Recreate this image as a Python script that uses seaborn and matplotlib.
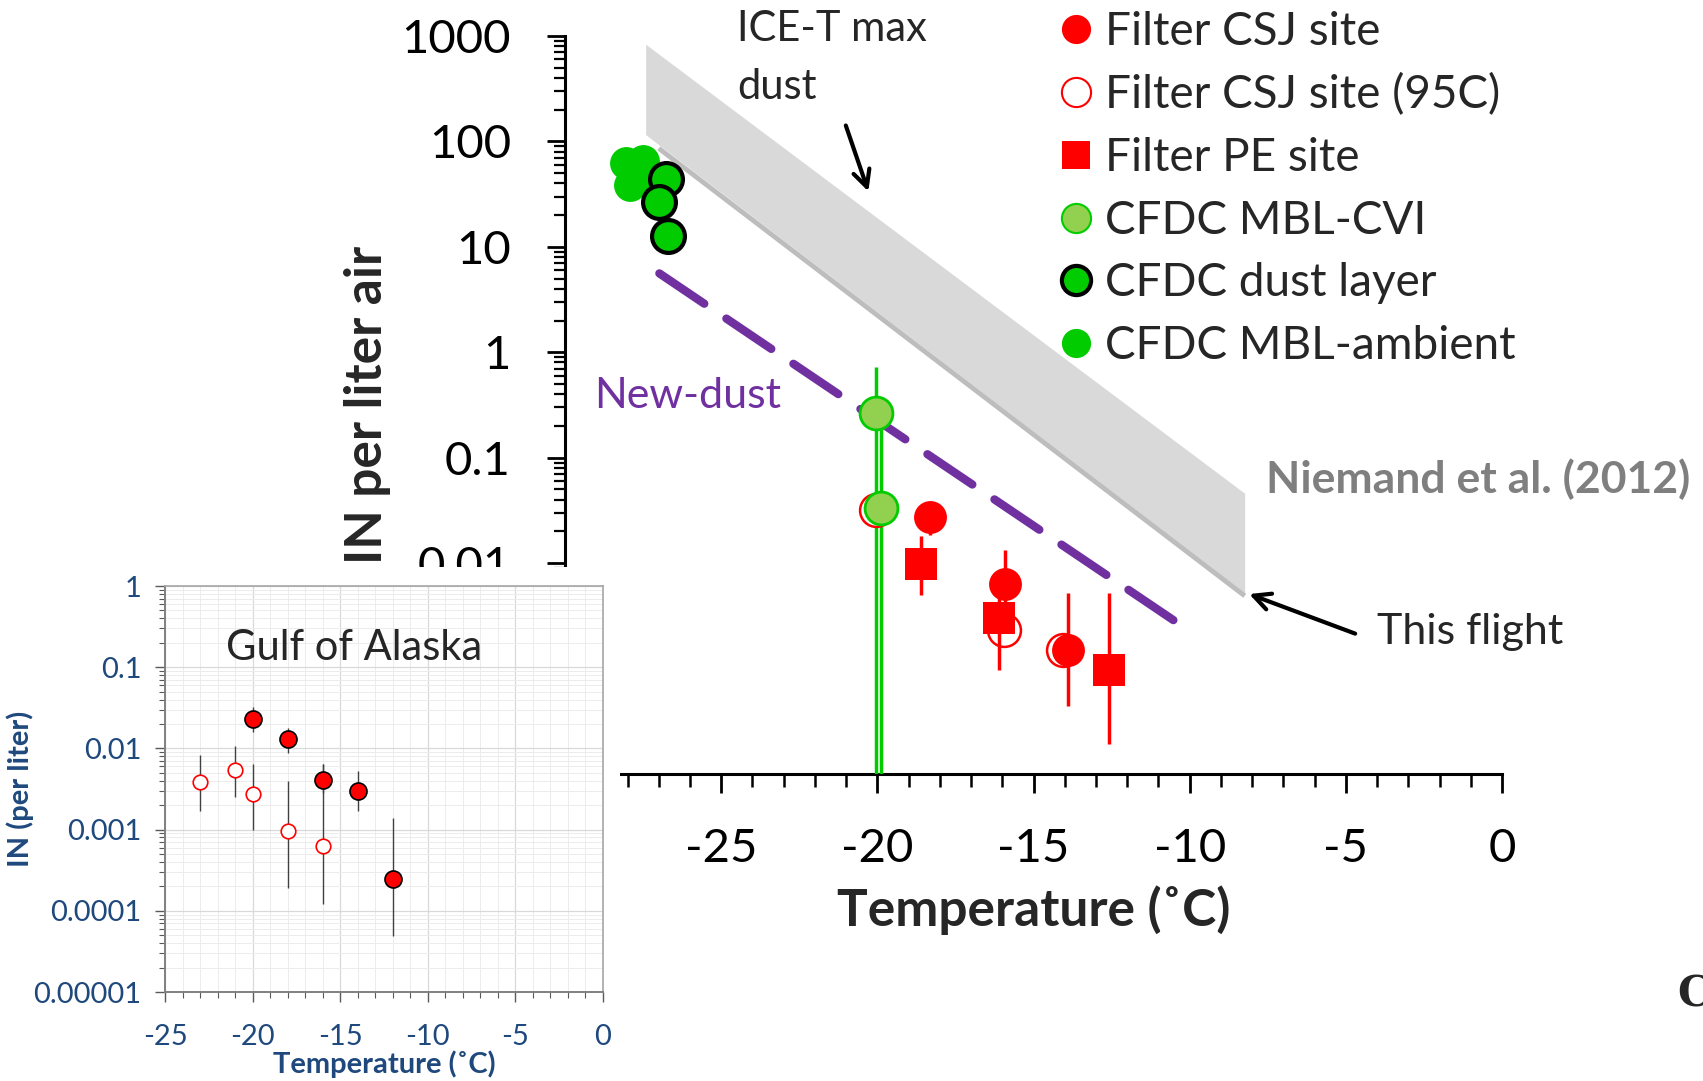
import numpy as np
import matplotlib
matplotlib.use('Agg')
import matplotlib.pyplot as plt
import seaborn as sns
from matplotlib.lines import Line2D
from matplotlib.patches import Rectangle
from matplotlib.ticker import MultipleLocator, LogLocator, FuncFormatter, NullFormatter

sns.set_style('white')
plt.rcParams['font.family'] = ['Lato', 'DejaVu Sans']
plt.rcParams['axes.unicode_minus'] = False

# ---- main panel data ----
csj_t = [-18.3, -15.9, -13.9]
csj_in = [0.0275, 0.0063, 0.00149]
csj_lo = [0.0186, 0.003, 0.000446]
csj_hi = [0.030, 0.0133, 0.0052]

csj95_t = [-20.05, -15.95, -14.05]
csj95_in = [0.032, 0.0023, 0.0015]

pe_t = [-18.6, -16.1, -12.6]
pe_in = [0.0098, 0.0030, 0.00097]
pe_lo = [0.00495, 0.00096, 0.000192]
pe_hi = [0.0182, 0.0055, 0.0052]

cvi_t = [-20.05, -19.87]
cvi_in = [0.265, 0.033]
cvi_lo = [1e-5, 1e-5]
cvi_hi = [0.73, 0.265]

dust_t = [-26.77, -26.98, -26.7]
dust_in = [44, 26.8, 12.6]

amb_t = [-28.05, -27.49, -27.92, -27.06]
amb_in = [62, 64.6, 39, 44]

# Niemand et al. (2012) band and this-flight edge
band_t = [-27.42, -8.24]
band_lo = [116, 0.0052]
band_hi = [835, 0.046]
flight_t = [-27.0, -8.24]
flight_in = [86, 0.0049]

# New-dust parameterisation
newdust_t = [-26.98, -10.3]
newdust_in = [5.6, 0.0026]

# ---- inset (Gulf of Alaska) data ----
goa_t = [-20, -18, -16, -14, -12]
goa_in = [0.0232, 0.0129, 0.00411, 0.0030, 0.000248]
goa_lo = [0.0159, 0.0089, 0.0028, 0.0017, 0.000049]
goa_hi = [0.0325, 0.018, 0.0065, 0.0053, 0.00139]

goa95_t = [-23, -21, -20, -18, -16]
goa95_in = [0.00387, 0.0054, 0.00275, 0.00096, 0.00063]
goa95_lo = [0.0017, 0.0025, 0.001, 0.00019, 0.00012]
goa95_hi = [0.0084, 0.0106, 0.0065, 0.004, 0.0065]

RED = '#ff0000'
GREEN = '#00cc00'
LIGHTGREEN = '#92d050'
PURPLE = '#7030a0'
NAVY = '#1f497d'


def dec_fmt(v, pos):
    if v >= 1:
        return f'{v:.0f}'
    n = int(round(-np.log10(v)))
    return f'{v:.{n}f}'


def yerr(val, lo, hi):
    val = np.asarray(val)
    return [val - np.asarray(lo), np.asarray(hi) - val]


fig = plt.figure(figsize=(17.03, 10.81), dpi=100)
ax = fig.add_axes([0.3318, 0.284, 0.5502, 0.6827])

# band
ax.fill_between(band_t, band_lo, band_hi, color='#d9d9d9', lw=0, zorder=1)
ax.plot(flight_t, flight_in, color='#bdbdbd', lw=3.5, zorder=1.5, solid_capstyle='butt')
ax.plot(newdust_t, newdust_in, color=PURPLE, lw=6, ls=(0, (6.5, 3.2)),
        dash_capstyle='round', zorder=2)

# error bars
ax.errorbar(cvi_t, cvi_in, yerr=yerr(cvi_in, cvi_lo, cvi_hi), fmt='none',
            ecolor=GREEN, elinewidth=2.5, capsize=0, zorder=3)
ax.errorbar(csj_t, csj_in, yerr=yerr(csj_in, csj_lo, csj_hi), fmt='none',
            ecolor=RED, elinewidth=2.5, capsize=0, zorder=5)
ax.errorbar(pe_t, pe_in, yerr=yerr(pe_in, pe_lo, pe_hi), fmt='none',
            ecolor=RED, elinewidth=2.5, capsize=0, zorder=5)

# points
sns.scatterplot(x=csj95_t, y=csj95_in, ax=ax, marker='o', s=560, color='white',
                edgecolor=RED, linewidth=1.8, zorder=4)
sns.scatterplot(x=csj_t, y=csj_in, ax=ax, marker='o', s=560, color=RED,
                linewidth=0, zorder=6)
sns.scatterplot(x=pe_t, y=pe_in, ax=ax, marker='s', s=560, color=RED,
                linewidth=0, zorder=6)
sns.scatterplot(x=cvi_t, y=cvi_in, ax=ax, marker='o', s=560, color=LIGHTGREEN,
                edgecolor=GREEN, linewidth=2, zorder=6)
sns.scatterplot(x=amb_t, y=amb_in, ax=ax, marker='o', s=560, color=GREEN,
                linewidth=0, zorder=6)
sns.scatterplot(x=dust_t, y=dust_in, ax=ax, marker='o', s=560, color=GREEN,
                edgecolor='black', linewidth=3, zorder=7)

ax.set_yscale('log')
ax.set_xlim(-30, 0)
ax.set_ylim(1e-4, 1000)
ax.yaxis.set_major_locator(LogLocator(base=10, numticks=20))
ax.yaxis.set_minor_locator(LogLocator(base=10, subs=np.arange(2, 10), numticks=20))
ax.yaxis.set_major_formatter(FuncFormatter(dec_fmt))
ax.yaxis.set_minor_formatter(NullFormatter())
ax.xaxis.set_major_locator(MultipleLocator(5))
ax.xaxis.set_minor_locator(MultipleLocator(1))
for s in ['top', 'right']:
    ax.spines[s].set_visible(False)
for s in ['left', 'bottom']:
    ax.spines[s].set_linewidth(2.2)
    ax.spines[s].set_color('black')
ax.tick_params(axis='both', which='both', bottom=True, left=True, top=False, right=False)
ax.tick_params(axis='x', which='major', direction='out', length=14, width=2,
               labelsize=34, colors='black', pad=25)
ax.tick_params(axis='x', which='minor', direction='out', length=9, width=1.8,
               colors='black')
ax.tick_params(axis='y', which='major', direction='out', length=13, width=2,
               labelsize=34, colors='black', pad=26)
ax.tick_params(axis='y', which='minor', direction='out', length=8, width=1.6,
               colors='black')
ax.grid(False)

ax.set_xlabel('Temperature (˚C)', fontsize=37, fontweight='bold')
ax.xaxis.set_label_coords(0.5, -0.184)
ax.xaxis.label.set_va('center')
ax.set_ylabel('IN per liter air', fontsize=37, fontweight='bold')
ax.yaxis.set_label_coords(-0.211, 0.5)
ax.yaxis.label.set_va('center')

# annotations
ax.text(-29.07, 0.384, 'New-dust', color=PURPLE, fontsize=31, va='center', ha='left')
ax.text(-24.48, 620, 'ICE-T max\ndust', fontsize=30, va='center', ha='left',
        linespacing=1.65, clip_on=False)
ax.annotate('', xy=(-20.26, 31.7), xytext=(-21.04, 150),
            arrowprops=dict(arrowstyle='->', lw=3, color='black', mutation_scale=30))
ax.text(-7.55, 0.062, 'Niemand et al. (2012)', color='#7f7f7f', fontsize=32,
        fontweight='bold', va='center', ha='left', clip_on=False)
ax.annotate('', xy=(-8.18, 0.0052), xytext=(-4.62, 0.0021),
            arrowprops=dict(arrowstyle='->', lw=3, color='black', mutation_scale=30))
ax.text(-3.99, 0.0022, 'This flight', fontsize=31, va='center', ha='left', clip_on=False)

# legend
handles = [
    Line2D([], [], ls='none', marker='o', ms=21, mfc=RED, mec=RED, mew=0, label='Filter CSJ site'),
    Line2D([], [], ls='none', marker='o', ms=21, mfc='white', mec=RED, mew=1.5, label='Filter CSJ site (95C)'),
    Line2D([], [], ls='none', marker='s', ms=20, mfc=RED, mec=RED, mew=0, label='Filter PE site'),
    Line2D([], [], ls='none', marker='o', ms=21, mfc=LIGHTGREEN, mec=GREEN, mew=1.5, label='CFDC MBL-CVI'),
    Line2D([], [], ls='none', marker='o', ms=21, mfc=GREEN, mec='black', mew=3, label='CFDC dust layer'),
    Line2D([], [], ls='none', marker='o', ms=21, mfc=GREEN, mec=GREEN, mew=0, label='CFDC MBL-ambient'),
]
fig.legend(handles=handles, loc='upper left', bbox_to_anchor=(0.6215, 0.99),
           frameon=False, fontsize=33, handlelength=0.75, handletextpad=0.26,
           labelspacing=0.45, borderpad=0, borderaxespad=0)

# white cover for inset
fig.patches.append(Rectangle((0, 0), 0.364, 0.4755, transform=fig.transFigure,
                             facecolor='white', edgecolor='none', zorder=1))

# ---- inset ----
ins = fig.add_axes([0.0969, 0.0823, 0.257, 0.3756])
ins.set_zorder(2)
ins.set_facecolor('white')
ins.errorbar(goa95_t, goa95_in, yerr=yerr(goa95_in, goa95_lo, goa95_hi), fmt='none',
             ecolor='#404040', elinewidth=1, capsize=0, zorder=3)
ins.errorbar(goa_t, goa_in, yerr=yerr(goa_in, goa_lo, goa_hi), fmt='none',
             ecolor='#404040', elinewidth=1, capsize=0, zorder=3)
sns.scatterplot(x=goa95_t, y=goa95_in, ax=ins, marker='o', s=110, color='white',
                edgecolor=RED, linewidth=1.2, zorder=4)
sns.scatterplot(x=goa_t, y=goa_in, ax=ins, marker='o', s=150, color=RED,
                edgecolor='black', linewidth=1.2, zorder=4)
ins.set_yscale('log')
ins.set_xlim(-25, 0)
ins.set_ylim(1e-5, 1)
ins.yaxis.set_major_locator(LogLocator(base=10, numticks=20))
ins.yaxis.set_minor_locator(LogLocator(base=10, subs=np.arange(2, 10), numticks=20))
ins.yaxis.set_major_formatter(FuncFormatter(dec_fmt))
ins.yaxis.set_minor_formatter(NullFormatter())
ins.xaxis.set_major_locator(MultipleLocator(5))
ins.xaxis.set_minor_locator(MultipleLocator(1))
ins.grid(True, which='major', color='#d9d9d9', lw=0.9)
ins.grid(True, which='minor', color='#ececec', lw=0.7)
for s in ['left', 'bottom']:
    ins.spines[s].set_color('#808080')
    ins.spines[s].set_linewidth(1.4)
for s in ['top', 'right']:
    ins.spines[s].set_color('#a6a6a6')
    ins.spines[s].set_linewidth(1.2)
ins.tick_params(axis='both', which='both', bottom=True, left=True, top=False, right=False)
ins.tick_params(axis='both', which='major', direction='out', length=7, width=1,
                color='#595959', labelsize=21, labelcolor=NAVY)
ins.tick_params(axis='both', which='minor', direction='out', length=4, width=0.8,
                color='#595959')
ins.tick_params(axis='x', which='major', pad=16)
ins.tick_params(axis='y', which='major', pad=10)
ins.set_xlabel('Temperature (˚C)', fontsize=21, fontweight='bold', color=NAVY)
ins.xaxis.set_label_coords(0.5, -0.178)
ins.xaxis.label.set_va('center')
ins.set_ylabel('IN (per liter)', fontsize=21, fontweight='bold', color=NAVY)
ins.yaxis.set_label_coords(-0.332, 0.5)
ins.yaxis.label.set_va('center')
ins.text(-21.5, 0.172, 'Gulf of Alaska', fontsize=30, va='center', ha='left')

fig.text(0.985, 0.08, 'C', family='DejaVu Serif', fontweight='bold', fontsize=30,
         va='center', ha='left')

fig.savefig('out.png', dpi=100)
